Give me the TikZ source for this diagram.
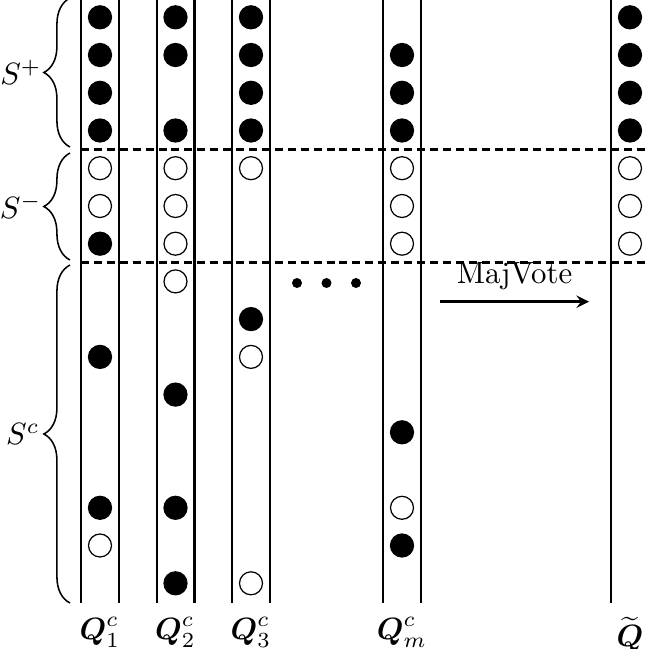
\documentclass[tikz,border=0pt]{standalone}
\usepackage{amsmath}
\usetikzlibrary{arrows}
\usetikzlibrary{decorations.pathreplacing}

\begin{document}
\begin{tikzpicture}[x=0.325pt,y=0.325pt,yscale=-1,xscale=1,
  colline/.style={line width=0.8pt},
  cutline/.style={line width=0.8pt, dash pattern={on 2.6pt off 1.6pt}},
  ball/.style={draw=black, fill=black, line width=0.4pt},
  hole/.style={draw=black, fill=white, line width=0.4pt},
  setbrace/.style={decorate, decoration={brace, amplitude=8.5pt}, line width=0.5pt}]
\clip (0,0) rectangle (646,649);
%set diagram left start at 0, and has height of 649

%Straight Lines [columns]
\draw [colline] (81,-5) -- (81,603) ;
\draw [colline] (119,-5) -- (119,603) ;
\draw [colline] (157,-5) -- (157,603) ;
\draw [colline] (194.5,-5) -- (194.5,603) ;
\draw [colline] (232,-5) -- (232,603) ;
\draw [colline] (270,-5) -- (270,603) ;
\draw [colline] (383,-5) -- (383,603) ;
\draw [colline] (421,-5) -- (421,603) ;
\draw [colline] (611,-5) -- (611,603) ;
\draw [colline] (649,-5) -- (649,603) ;

%Straight Lines [cuts]
\draw [cutline] (81,149.4) -- (660,149.4) ;
\draw [cutline] (81,262.5) -- (660,262.5) ;

%Shape: Brace [S+, S-, Sc]
\draw [setbrace] (70,147) -- (70,-2) ;
\draw [setbrace] (70,260) -- (70,153) ;
\draw [setbrace] (70,603) -- (70,265) ;
\node [anchor=east, inner sep=0pt] (splus) at (42,72.5) {$S^+$};
\node [anchor=east, inner sep=0pt] (sminus) at (42,206.5) {$S^-$};
\node [anchor=east, inner sep=0pt] (scomp) at (40,434) {$S^c$};

%Shape: Circle [column 1]
\draw [ball] (100,17.3) circle (11.5) ;
\draw [ball] (100,55) circle (11.5) ;
\draw [ball] (100,92.8) circle (11.5) ;
\draw [ball] (100,130.5) circle (11.5) ;
\draw [hole] (100,168.2) circle (11.5) ;
\draw [hole] (100,206) circle (11.5) ;
\draw [ball] (100,243.7) circle (11.5) ;
\draw [ball] (100,356.9) circle (11.5) ;
\draw [ball] (100,507.8) circle (11.5) ;
\draw [hole] (100,545.5) circle (11.5) ;

%Shape: Circle [column 2]
\draw [ball] (175.5,17.3) circle (11.5) ;
\draw [ball] (175.5,55) circle (11.5) ;
\draw [ball] (175.5,130.5) circle (11.5) ;
\draw [hole] (175.5,168.2) circle (11.5) ;
\draw [hole] (175.5,206) circle (11.5) ;
\draw [hole] (175.5,243.7) circle (11.5) ;
\draw [hole] (175.5,281.4) circle (11.5) ;
\draw [ball] (175.5,394.6) circle (11.5) ;
\draw [ball] (175.5,507.8) circle (11.5) ;
\draw [ball] (175.5,583.3) circle (11.5) ;

%Shape: Circle [column 3]
\draw [ball] (251,17.3) circle (11.5) ;
\draw [ball] (251,55) circle (11.5) ;
\draw [ball] (251,92.8) circle (11.5) ;
\draw [ball] (251,130.5) circle (11.5) ;
\draw [hole] (251,168.2) circle (11.5) ;
\draw [ball] (251,319.1) circle (11.5) ;
\draw [hole] (251,356.9) circle (11.5) ;
\draw [hole] (251,583.3) circle (11.5) ;

%Shape: Circle [column m]
\draw [ball] (402,55) circle (11.5) ;
\draw [ball] (402,92.8) circle (11.5) ;
\draw [ball] (402,130.5) circle (11.5) ;
\draw [hole] (402,168.2) circle (11.5) ;
\draw [hole] (402,206) circle (11.5) ;
\draw [hole] (402,243.7) circle (11.5) ;
\draw [ball] (402,432.3) circle (11.5) ;
\draw [hole] (402,507.8) circle (11.5) ;
\draw [ball] (402,545.5) circle (11.5) ;

%Shape: Circle [majority column]
\draw [ball] (630,17.3) circle (11.5) ;
\draw [ball] (630,55) circle (11.5) ;
\draw [ball] (630,92.8) circle (11.5) ;
\draw [ball] (630,130.5) circle (11.5) ;
\draw [hole] (630,168.2) circle (11.5) ;
\draw [hole] (630,206) circle (11.5) ;
\draw [hole] (630,243.7) circle (11.5) ;

%Shape: Circle [dots]
\fill (297,283) circle (5) ;
\fill (326.5,283) circle (5) ;
\fill (356,283) circle (5) ;

%Straight Lines [vote arrow]
\coordinate (votefrom) at (440,301.7) ;
\coordinate (voteto) at (589,301.7) ;
\draw [line width=0.8pt, -stealth] (votefrom) -- node [above] (vote) {MajVote} (voteto) ;

% Text Node
\node [anchor=north] (q1) at (100,606) {$\boldsymbol{Q}^c_1$};
\node [anchor=north] (q2) at (175.5,606) {$\boldsymbol{Q}^c_2$};
\node [anchor=north] (q3) at (251,606) {$\boldsymbol{Q}^c_3$};
\node [anchor=north] (qm) at (402,606) {$\boldsymbol{Q}^c_m$};
\node [anchor=north] (qtilde) at (630,606) {$\widetilde{\boldsymbol{Q}}$};

\end{tikzpicture}
\end{document}
